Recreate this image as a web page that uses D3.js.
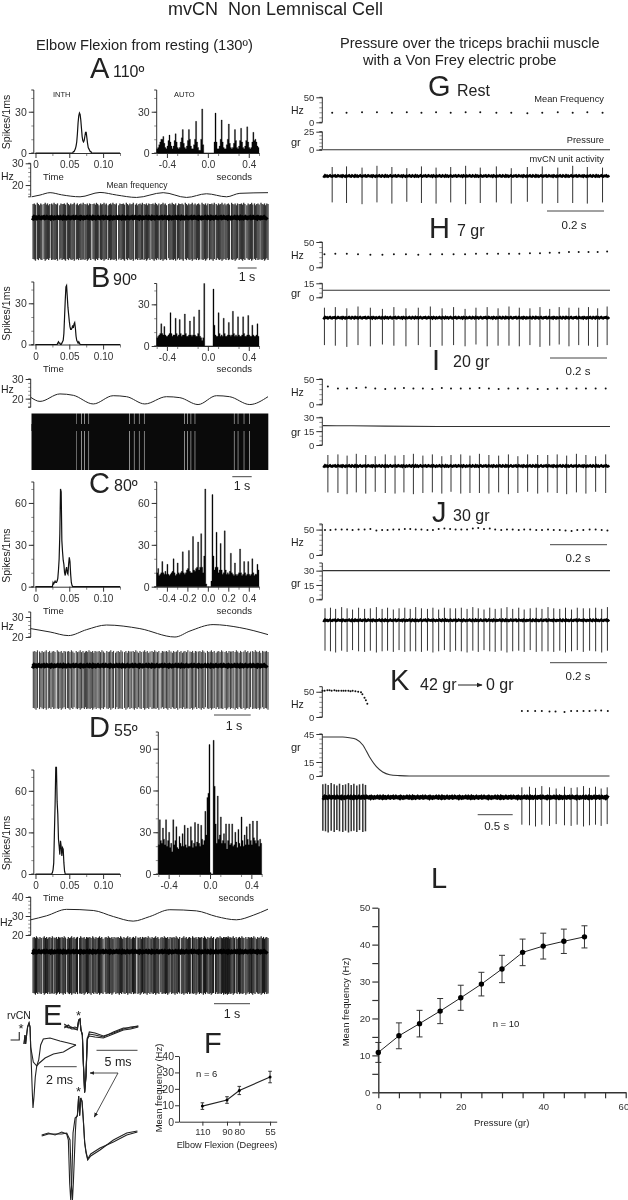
<!DOCTYPE html>
<html>
<head>
<meta charset="utf-8">
<script src="https://cdn.jsdelivr.net/npm/d3@7"></script>
<style>
body { margin: 0; background: #fff; }
svg { display: block; filter: blur(0.35px); }
text { font-family: "Liberation Sans", Arial, sans-serif; fill: #222; }
</style>
</head>
<body>
<svg width="628" height="1200"></svg>
<script>
// interspike histograms, 1 ms bins, first bin in inthXStart
const inthAStart = 0.055;
const inthA = [0,1,1,2,3,5,8,14,22,27,29,28,24,18,12,9,8,9,12,15,15,11,7,4,3,2,1,1,0];
const inthBStart = 0.032;
const inthB = [0,1,2,1,1,0,0,1,2,3,8,20,32,42,43,35,27,22,17,13,11,11,12,14,12,15,16,12,6,3,2,1,2,1,0];
const inthCStart = 0.024;
const inthC = [0,0,3,2,3,4,3,3,4,6,12,20,38,70,68,33,25,19,16,10,8,12,14,10,9,16,21,18,9,3,1,0];
const inthDStart = 0.024;
const inthD = [0,1,3,8,30,50,77,77,52,43,25,20,14,24,20,13,19,18,8,2,0];

// autocorrelograms, 10 ms bins from -0.5 s
const autoA = [3,4,6,8,10,10,12,7,4,3,5,9,13,8,5,3,5,9,14,8,4,3,4,8,11,17,7,4,3,5,9,17,10,5,3,3,6,10,23,8,4,2,2,10,32,6,0,0,0,0,0,0,0,0,0,0,8,29,8,3,3,5,10,24,8,4,3,3,6,10,21,7,4,3,4,7,17,9,4,3,5,9,18,8,4,3,5,9,19,8,4,3,4,8,15,9,10,8,5,4];
const autoB = [6,7,8,9,16,9,8,14,8,7,7,8,9,24,9,7,8,8,20,9,7,8,19,9,7,8,8,23,9,7,7,8,18,8,7,8,21,8,7,7,9,26,7,6,4,6,45,0,0,0,0,0,0,0,0,41,15,8,7,7,24,9,7,8,7,20,9,7,7,8,17,8,7,8,25,9,7,8,7,21,8,7,7,8,21,9,7,7,8,22,8,7,7,15,8,7,7,8,16,7];
const autoC = [10,13,8,9,10,18,10,9,11,9,16,9,8,9,10,11,20,10,8,9,17,10,9,10,11,25,10,9,10,12,13,26,11,10,10,36,12,11,13,14,32,12,14,38,14,10,22,70,2,0,0,0,0,4,66,22,12,14,39,14,10,12,31,12,9,10,40,12,9,10,9,11,24,10,9,8,17,9,8,9,10,27,10,8,9,18,10,8,9,18,9,8,9,20,10,8,9,9,16,12];
const autoD = [21,39,24,22,33,25,21,39,20,24,30,19,22,16,39,21,24,34,19,18,27,22,20,29,20,35,21,19,33,20,20,34,24,19,22,37,20,23,36,22,20,35,25,21,24,45,28,55,58,93,1,0,0,96,63,36,22,56,25,28,41,22,24,29,22,36,18,24,36,21,22,36,20,21,30,23,19,32,22,20,41,24,20,28,21,34,25,21,36,24,21,38,26,24,22,38,24,20,25,22];

// mean frequency traces
const freqATime = [0.05,0.49,1.02,1.63,2.6,3.65,4.53,5.58,6.98,8.21,9.26,10.32,11.02,12.5];
const freqAHz = [14.6,15.4,16.5,15.5,14.6,16.6,15.4,14.3,16.5,14.3,16,14.6,16.2,16.5];
const freqBTime = [0,0.48,1.51,2.2,3.23,4.26,4.95,5.89,7.01,7.7,8.64,9.59,10.27,11.31,12.25];
const freqBHz = [20.7,18.6,22.4,21.7,17.3,21.5,21,17.3,21,20.5,17,21.5,21,17,21];
const freqCTime = [0,0.53,1.03,1.53,2.07,2.98,3.94,4.35,4.98,5.71,6.48];
const freqCHz = [24.2,22.5,20.7,23.7,26,24.2,20,23,26.2,24.7,21.2];
const freqDTime = [0,0.44,1,1.74,2.3,2.85,3.31,3.87,4.61,5.17,5.72,6.19,6.6];
const freqDHz = [28,30.1,33.5,32.9,29.7,27.3,29.7,33.3,32.7,29.7,28,30.4,33.6];

// interspike intervals of the long unit records, ms
const unitAIsi = [58,62,60,95,55,60,64,58,112,60,56,62,60,58,98,60,64,56,60,62,120,58,60,62,56,60,90,62,58,60,64,58,60,105,56,62,60,58,62,60,92,58,64,60,56,60,118,60,62,58,60,64,88,56,60,62,58,60,100,62,60,56,64,58,60,60,125,58,62,60,56,62,94,60,58,64,60,56,62,110,60,58,62,60,64,56,90,60,62,58,60,62,102,56,60,64,58,60,62,96,58,60,62,56,64,115,60,58,62,60,56,60,92,64,58,60,62,58,108,60,56,62,60,64,58,88,60,62,56,60,60,120,58,62,60,64,56,94,60,58,62,60,100,56,64,60,58,62,60,90,58,62,60,56,112,60,64,58,60,62,86,58,60,62,56,60,105,64,58,60,62,58,92,60,56,62,60,98,58,60,64,58,60,62];
const unitCIsi = [38,42,36,40,60,38,36,40,42,38,58,36,40,38,42,36,66,38,40,36,42,38,40,56,36,38,42,40,36,62,38,40,36,38,42,40,30,34,32,36,34,32,38,36,34,32,52,36,38,40,42,38,60,40,36,38,42,36,58,38,40,42,36,38,64,40,38,36,42,38,54,36,40,38,42,40,36,60,38,36,40,42,38,56,40,36,38,42,40,66,36,38,40,42,36,38,52,40,36,38,42,38,58,36,40,38,36,42,40,62,38,36,40,42,38,56,36,38,40,36,42,60,38,40,36,38,42,54,36,40,38,42,36,64,38,40,36,42,38,40,56,36,38,42,40,36,58,38,40,36,42,38,60,36,40,38,42,40,36,52,38,40,36,42];
const unitDIsi = [30,34,32,28,36,32,30,34,55,30,32,34,28,32,30,36,32,48,30,34,28,32,30,34,36,30,28,32,52,30,34,32,28,36,30,32,34,30,60,28,32,34,30,32,36,28,30,34,32,46,30,32,28,34,36,30,32,30,34,58,28,32,30,36,34,30,28,32,50,34,30,32,36,28,30,34,32,44,30,34,28,32,36,30,32,30,62,28,34,32,30,36,28,32,34,30,48,32,28,34,30,36,32,30,28,54,34,30,32,36,28,30,34,32,46,30,34,28,32,30,36,32,58,30,28,34,32,30,36,28,32,50,34,30,32,28,36,30,34,32,44,30,28,34,32,36,30,28,32,34,56,30,32,28,34,36,30,32,18,16,20,18,16,18,20,16,18,20,24,30,34,32,48,28,36,30,32,34,28,30,52,34,32,30,28,36,32,30,34,46,28,32,30,34,36,30,28,32,30,34];
// firing runs of trace B, s (solid between the short pauses)
const unitBRunStart = [0,2.33,2.6,2.76,2.98,5.09,5.33,5.59,5.85,7.93,8.1,8.27,8.48,10.51,10.71,11.02,11.31];
const unitBRunEnd = [2.3,2.56,2.72,2.94,5.05,5.29,5.55,5.81,7.89,8.06,8.23,8.44,10.47,10.67,10.98,11.27,12.25];

// pressure records G-K
const spikesG = [0.032,0.082,0.136,0.188,0.24,0.292,0.343,0.394,0.445,0.497,0.548,0.604,0.656,0.712,0.764,0.818,0.87,0.921,0.974];
const hzG = [19,19,20,20,19,20,19,20,19,20,20,19,19,18,19,20,19,20,19];
const spikesH = [0.005,0.043,0.083,0.122,0.165,0.207,0.247,0.289,0.332,0.374,0.415,0.455,0.495,0.533,0.572,0.61,0.648,0.684,0.721,0.756,0.79,0.823,0.857,0.891,0.925,0.957,0.99];
const hzH = [26,27,27,26,25,25,26,26,25,26,26,26,26,27,27,27,27,27,28,28,29,29,30,30,30,30,31];
const spikesI = [0.017,0.052,0.084,0.116,0.149,0.182,0.217,0.251,0.282,0.315,0.348,0.381,0.414,0.446,0.48,0.512,0.545,0.578,0.612,0.646,0.679,0.713,0.748,0.783,0.816,0.849,0.883,0.916,0.95,0.985];
const hzI = [35,31,31,32,33,31,30,31,32,31,31,30,32,31,31,31,32,31,30,31,31,31,30,30,31,31,31,31,31,31];
const spikesJ = [0.007,0.026,0.044,0.065,0.084,0.103,0.124,0.145,0.165,0.186,0.206,0.225,0.245,0.265,0.285,0.304,0.323,0.343,0.364,0.383,0.403,0.423,0.443,0.462,0.482,0.502,0.522,0.541,0.561,0.581,0.6,0.621,0.641,0.661,0.682,0.701,0.722,0.743,0.763,0.784,0.804,0.825,0.845,0.866,0.886,0.907,0.929,0.95,0.971,0.991];
const hzJ = [49,49,50,50,50,49,50,50,51,48,49,49,50,50,51,51,50,50,49,49,51,52,51,50,50,50,52,53,51,52,50,49,50,50,49,50,50,49,49,50,49,49,48,47,49,49,50,50,49,48];
const spikesKLeft = [0.005,0.043,0.081,0.124,0.167,0.205,0.243,0.29,0.329,0.371,0.41,0.448,0.49,0.529,0.576,0.614];
const spikesKRight = [2.848,2.957,3.043,3.133,3.243,3.338,3.457,3.552,3.638,3.729,3.814,3.9,3.981,4.067];
const dotsKTime = [0,0.03,0.07,0.1,0.13,0.17,0.2,0.23,0.27,0.3,0.33,0.37,0.4,0.43,0.47,0.51,0.55,0.57,0.6,0.62,0.64,2.848,2.933,3.038,3.133,3.243,3.329,3.457,3.552,3.638,3.729,3.814,3.9,3.981,4.076];
const dotsKHz = [52,52,53,53,52,53,52,52,52,52,52,52,51,52,51,50,49,45,38,33,26,12,12,12,12,11,11,10,12,12,12,12,13,13,12];
const pressGTime = [0,1], pressG = [0,0];
const pressHTime = [0,1], pressH = [7.5,7.6];
const pressITime = [0,0.1,0.4,1], pressI = [21,20.8,20,20];
const pressJTime = [0,1], pressJ = [30,30];
const pressKTime = [0,0.29,0.385,0.48,0.576,0.67,0.77,0.86,0.96,1.1,1.24,4.1];
const pressK = [41.8,41.8,41,39.3,33.2,20.7,10,4.3,1.4,0.4,0,0];

// waveforms of panel E, ms
const waveRvTimeA = [0,0.06,0.1,0.16,0.22,0.31,0.37,0.41,0.51,0.55,0.61,0.69,0.78,0.94,1.29,1.8,2.41,2.82,3.18];
const waveRvA = [1,10,1,10,18,22,18,-2,-48,-63,-52,-32,-21,-18,-13,-9,-7,-3,0];
const waveRvTimeB = [0,0.06,0.1,0.16,0.22,0.31,0.37,0.41,0.57,0.78,0.9,1.02,1.18,1.59,2.2,2.71,3.18];
const waveRvB = [1,10,1,10,18,22,18,-2,-17,-21,-15,0,6,7,4,2,0];
const waveTopTime = [0,0.49,0.89,1.3,1.59,1.75,1.91,2.03,2.2,2.32,2.48,2.64,2.8,3.05,3.74,4.76,5.98,7.2,8.09,9.02];
const waveTopA = [4,2,3,1,1,10,11,0,-5,-33,-63,-47,-10,-4,-5,-7,-2,2,2,4];
const waveTopB = [2,5,2,3,2,10,11,0,-5,-33,-62,-46,-9,-2,-3,-6,-3,1,3,4];
const waveTopC = [6,3,1,1,0,9,11,0,-4,-32,-62,-46,-8,-6,-7,-8,-4,0,1,3];
const waveLowTimeA = [0,0.81,1.63,2.44,3.05,3.25,3.41,3.54,3.66,3.82,4.07,4.35,4.51,4.63,4.76,4.92,5.08,5.24,5.41,5.61,5.98,7.11,8.74,10.37,11.67];
const waveLowTimeB = [0,0.81,1.63,2.44,3.05,3.45,3.62,3.75,3.86,4.1,4.2,4.35,4.51,4.63,4.76,4.92,5.08,5.24,5.41,5.61,5.98,7.11,8.74,10.37,11.67];
const waveLowA = [-2,0,-2,1,-1,-7,-50,-67,-50,0,15,17,37,17,35,32,13,-10,-20,-27,-23,-17,-7,0,2];
const waveLowB = [-3,-1,-1,-1,0,-7,-50,-67,-50,0,15,18,37,18,35,31,12,-9,-19,-26,-21,-15,-9,-2,1];

// elbow flexion summary
const flexAngle = [110,90,80,55];
const flexHz = [9.5,13.2,19,27.2];
const flexErr = [2,2,2.5,3.5];
// pressure summary
const pressureGr = [0,5,10,15,20,25,30,35,40,45,50];
const pressureHz = [10.8,15.3,18.6,22,25.6,29.3,33.4,37.9,39.6,40.9,42.1];
const pressureErr = [2.7,3.5,3.6,3.4,3.4,3.2,3.7,3.6,3.5,3.3,3];

// recording noise and spike height spread, cycled along the traces
const bandNoise = [0,1,-1,0.5,-0.5,1,0,-1,0.5,1,-0.5,0,-1,1,0.5,-1,0,0.5,-0.5,1,-1,0,1,-0.5,0.5,0,-1,0.5,1,-1];
const spikeSpread = [0,1,-1,2,0,-2,1,-1,0,2,-1,1,-2,0,1,-1,2,0,-1,1,-2,1,0];

const svg = d3.select("svg");

const label = (x, y, str, size, anchor, rotate) => {
  const t = svg.append("text")
    .attr("font-size", size)
    .attr("text-anchor", anchor || "start")
    .text(str);
  if (rotate) t.attr("transform", "translate(" + [x, y] + ") rotate(" + rotate + ")");
  else t.attr("x", x).attr("y", y);
  return t;
};

const styleAxis = (g, fontSize) => {
  g.selectAll("path,line").attr("stroke", "#333");
  g.selectAll("text").attr("font-size", fontSize).attr("font-family", null).style("fill", "#333");
  g.attr("font-family", null);
};

const leftAxis = (scale, x, major, minor, tickLen, fontSize) => {
  const g = svg.append("g").attr("transform", "translate(" + [x, 0] + ")");
  g.call(d3.axisLeft(scale).tickValues(minor).tickSize(tickLen / 2).tickFormat(""));
  g.selectAll(".tick line").attr("stroke-opacity", 0.55);
  const big = svg.append("g").attr("transform", "translate(" + [x, 0] + ")");
  big.call(d3.axisLeft(scale).tickValues(major).tickSize(tickLen).tickSizeOuter(0).tickPadding(2));
  styleAxis(g, fontSize);
  styleAxis(big, fontSize);
  g.select(".domain").attr("d", "M-" + tickLen / 2 + "," + scale.range()[0] + "H0V" + scale.range()[1] + "H-" + tickLen / 2);
  big.select(".domain").remove();
};

const bottomAxis = (scale, y, major, minor, format) => {
  const g = svg.append("g").attr("transform", "translate(" + [0, y] + ")");
  g.call(d3.axisBottom(scale).tickValues(minor).tickSize(3).tickSizeOuter(0).tickFormat(""));
  g.selectAll(".tick line").attr("stroke-opacity", 0.6);
  const big = svg.append("g").attr("transform", "translate(" + [0, y] + ")");
  big.call(d3.axisBottom(scale).tickValues(major).tickSize(5).tickPadding(3).tickFormat(format));
  big.select(".domain").remove();
  styleAxis(g, 10);
  styleAxis(big, 10);
};

const drawInth = (box, values, start, yMajor) => {
  const x = d3.scaleLinear().domain([-0.0025, 0.125]).range([box.x0, box.x1]);
  const y = d3.scaleLinear().domain(box.yDomain).range([box.y0, box.yTop]);
  const times = [0].concat(values.map((v, i) => start + i * 0.001), [0.125]);
  const vals = [0].concat(values, [0]);
  leftAxis(y, box.x0, yMajor, d3.range(0, box.yDomain[1], 10), 5, 10.5);
  bottomAxis(x, box.y0, [0, 0.05, 0.1], [0.025, 0.075, 0.125], d => d === 0 ? "0" : d3.format(".2f")(d));
  svg.append("path")
    .datum(vals)
    .attr("fill", "none")
    .attr("stroke", "#111")
    .attr("stroke-width", 1.2)
    .attr("d", d3.line().x((d, i) => x(times[i])).y(d => y(d)));
};

const drawAuto = (box, values, yMajor, xMajor) => {
  const x = d3.scaleLinear().domain([-0.5, 0.5]).range([box.x0, box.x1]);
  const y = d3.scaleLinear().domain(box.yDomain).range([box.y0, box.yTop]);
  leftAxis(y, box.x0, yMajor, d3.range(0, box.yDomain[1], 10), 5, 10.5);
  bottomAxis(x, box.y0, xMajor, [-0.3, -0.1, 0.1, 0.3, 0.5, -0.5], d => d3.format(".1f")(d).replace("\u2212", "-"));
  // one stepped area, so neighbouring bins leave no seams
  svg.append("path")
    .datum(values.concat(values[values.length - 1]))
    .attr("fill", "#050505")
    .attr("stroke", "#050505")
    .attr("stroke-width", 0.3)
    .attr("d", d3.area().curve(d3.curveStepAfter)
      .x((d, i) => x(-0.5 + i * 0.01))
      .y0(y(0))
      .y1(d => y(d)));
};

const drawFreq = (box, times, hz, major, minor) => {
  const x = d3.scaleLinear().domain([0, box.span]).range([box.x0, box.x1]);
  const y = d3.scaleLinear().domain(box.yDomain).range([box.y0, box.yTop]);
  leftAxis(y, box.x0, major, minor, 5, 10.5);
  svg.append("path")
    .datum(hz)
    .attr("fill", "none")
    .attr("stroke", "#222")
    .attr("stroke-width", 1)
    .attr("d", d3.line().x((d, i) => x(times[i])).y(d => y(d)).curve(d3.curveMonotoneX));
};

// thin noisy line that the spikes stand on
const drawBand = (x, t0, t1, step, yBand, width, color) => {
  const grid = d3.range(t0, t1, step);
  svg.append("path")
    .datum(grid)
    .attr("fill", "none")
    .attr("stroke", color || "#000")
    .attr("stroke-width", width)
    .attr("d", d3.line().x(d => x(d)).y((d, i) => yBand + bandNoise[i % bandNoise.length] * 0.6));
};

const drawSpikes = (x, times, yBand, up, down, color, width) => {
  svg.append("g").selectAll("line")
    .data(times)
    .join("line")
    .attr("x1", d => x(d))
    .attr("x2", d => x(d))
    .attr("y1", (d, i) => yBand - up - spikeSpread[i % spikeSpread.length] * 0.6)
    .attr("y2", (d, i) => yBand + down + spikeSpread[(i + 7) % spikeSpread.length] * 0.6)
    .attr("stroke", color)
    .attr("stroke-width", width);
};

const drawLongUnit = (box, isi, color, width) => {
  const times = d3.cumsum(isi).map(v => v / 1000);
  const x = d3.scaleLinear().domain([0, d3.sum(isi) / 1000]).range([box.x0, box.x1]);
  drawSpikes(x, times, box.band, box.band - box.top, box.bottom - box.band, color, width);
  drawBand(x, 0, x.domain()[1], x.domain()[1] / 240, box.band, 4);
};

const drawBar = (x0, x1, y, text, cx, yText, size) => {
  const s = d3.scaleLinear().domain([0, 1]).range([x0, x1]);
  svg.append("line")
    .attr("x1", s(0)).attr("x2", s(1)).attr("y1", y).attr("y2", y)
    .attr("stroke", "#444").attr("stroke-width", 1);
  label(cx, yText, text, size, "middle");
};

// ---- titles
label(168, 15, "mvCN\u00a0 Non Lemniscal Cell", 18);
label(36, 50, "Elbow Flexion from resting (130º)", 14.7);
label(340, 48, "Pressure over the triceps brachii muscle", 14.6);
label(363, 65, "with a Von Frey electric probe", 14.7);

const bigLetter = (str, x, y) => label(x, y, str, 29);
bigLetter("A", 90, 78);
label(113, 77, "110º", 16);
bigLetter("B", 91, 287);
label(113, 285, "90º", 16);
bigLetter("C", 89, 493);
label(114, 491, "80º", 16);
bigLetter("D", 89, 737);
label(114, 736, "55º", 16);
bigLetter("E", 43, 1025);
bigLetter("F", 204, 1053);
bigLetter("G", 428, 96);
label(457, 96, "Rest", 16);
bigLetter("H", 429, 238);
label(457, 236, "7 gr", 16);
bigLetter("I", 432, 370);
label(453, 367, "20 gr", 16);
bigLetter("J", 432, 522);
label(453, 521, "30 gr", 16);
bigLetter("K", 390, 690);
label(420, 690, "42 gr", 16);
label(486, 690, "0 gr", 16);
bigLetter("L", 431, 888);

svg.append("defs").append("marker")
  .attr("id", "head").attr("viewBox", "0 0 10 10").attr("refX", 9).attr("refY", 5)
  .attr("markerWidth", 6).attr("markerHeight", 6).attr("orient", "auto")
  .append("path").attr("d", "M0,1L10,5L0,9Z").attr("fill", "#222");
svg.append("line").attr("x1", 458).attr("x2", 482).attr("y1", 685).attr("y2", 685)
  .attr("stroke", "#222").attr("marker-end", "url(#head)");

// ---- left column histograms
const leftRows = [
  { inth: inthA, start: inthAStart, auto: autoA, y0: 153, yTop: 90, top: 45.8, major: [0, 30], xAuto: [156.7, 259], xTicks: [-0.4, 0, 0.4] },
  { inth: inthB, start: inthBStart, auto: autoB, y0: 344.5, yTop: 282, top: 45.5, major: [0, 30], xAuto: [156.7, 259], xTicks: [-0.4, 0, 0.4] },
  { inth: inthC, start: inthCStart, auto: autoC, y0: 586.7, yTop: 482, top: 75, major: [0, 30, 60], xAuto: [156.7, 259], xTicks: [-0.4, -0.2, 0, 0.2, 0.4] },
  { inth: inthD, start: inthDStart, auto: autoD, y0: 874, yTop: 770, top: 75, major: [0, 30, 60], xAuto: [158.3, 261.7], xTicks: [-0.4, 0, 0.4] }
];

leftRows.forEach((row, i) => {
  drawInth({ x0: 33.8, x1: 120, y0: row.y0, yTop: row.yTop, yDomain: [0, row.top] }, row.inth, row.start, row.major);
  const autoBox = { x0: row.xAuto[0], x1: row.xAuto[1], y0: row.y0 + (i === 1 ? 1.5 : 0), yTop: row.yTop, yDomain: [0, row.top] };
  if (i === 3) { autoBox.yTop = 732; autoBox.yDomain = [0, 102]; }
  if (i === 1) { autoBox.yTop = 283.5; autoBox.yDomain = [0, 45]; }
  drawAuto(autoBox, row.auto, i === 3 ? [0, 30, 60, 90] : row.major, row.xTicks);
  label(43, row.y0 + 27, "Time", 9.5);
  label(i === 3 ? 254 : 252, row.y0 + 27, "seconds", 9.5, "end");
  label(10, row.y0 - 31, "Spikes/1ms", 10.5, "middle", -90);
});
label(53, 97, "INTH", 7.5);
label(174, 97, "AUTO", 7.5);
label(137, 188, "Mean frequency", 8.5, "middle");

// ---- left column frequency traces and unit records
drawFreq({ x0: 30.7, x1: 268, span: 12.5, y0: 196.8, yTop: 163.3, yDomain: [14.6, 30] }, freqATime, freqAHz, [20, 30], d3.range(16, 30, 2));
drawFreq({ x0: 30.7, x1: 268, span: 12.25, y0: 407.3, yTop: 379, yDomain: [15.6, 30] }, freqBTime, freqBHz, [20, 30], d3.range(16, 30, 2));
drawFreq({ x0: 30.7, x1: 268, span: 6.48, y0: 637, yTop: 612, yDomain: [20, 32.5] }, freqCTime, freqCHz, [20, 30], d3.range(20, 32, 2));
drawFreq({ x0: 30.7, x1: 268, span: 6.6, y0: 935, yTop: 897, yDomain: [20, 40] }, freqDTime, freqDHz, [20, 30, 40], d3.range(20, 40, 2));
label(1, 180, "Hz", 10.5);
label(1, 393, "Hz", 10.5);
label(1, 630, "Hz", 10.5);
label(0, 926, "Hz", 10.5);

drawLongUnit({ x0: 32, x1: 268, top: 204, bottom: 259.5, band: 217.7 }, unitAIsi, "#333", 1.3);
drawLongUnit({ x0: 32, x1: 268, top: 651.5, bottom: 708.5, band: 665.7 }, unitCIsi, "#444", 1.15);
drawLongUnit({ x0: 32, x1: 268, top: 937.5, bottom: 993.5, band: 951.7 }, unitDIsi, "#1a1a1a", 1.15);

// trace B is solid, only the pauses show
const xUnitB = d3.scaleLinear().domain([0, 12.25]).range([31.5, 268]);
svg.append("g").selectAll("rect")
  .data(unitBRunStart)
  .join("rect")
  .attr("x", d => xUnitB(d))
  .attr("width", (d, i) => xUnitB(unitBRunEnd[i]) - xUnitB(d) + 0.3)
  .attr("y", 413.5)
  .attr("height", 56.5)
  .attr("fill", "#0a0a0a");
svg.append("rect").attr("x", 31.5).attr("width", 236.5).attr("y", 424).attr("height", 7).attr("fill", "#0a0a0a");

drawBar(237.7, 256.7, 268, "1 s", 247, 281, 12.5);
drawBar(232.3, 251.7, 476.7, "1 s", 242, 490, 12.5);
drawBar(214, 250.7, 715, "1 s", 234, 730, 12.5);
drawBar(214, 250, 1003.7, "1 s", 232, 1018, 12.5);

// ---- right column
const rightRows = [
  { spikes: spikesG, hz: hzG, dotT: spikesG, pT: pressGTime, p: pressG, f0: 122.3, f50: 97.3, fTop: 97.3, fMax: 50, p0: 149.7, pTopY: 131.7, pMax: 25, pMajor: [0, 25], band: 176, up: 9, down: 27 },
  { spikes: spikesH, hz: hzH, dotT: spikesH, pT: pressHTime, p: pressH, f0: 267.3, f50: 242, fTop: 242, fMax: 50, p0: 297.3, pTopY: 283.3, pMax: 15, pMajor: [0, 15], band: 317.7, up: 10, down: 28 },
  { spikes: spikesI, hz: hzI, dotT: spikesI, pT: pressITime, p: pressI, f0: 404.3, f50: 379, fTop: 379, fMax: 50, p0: 445, pTopY: 417.3, pMax: 30, pMajor: [0, 15, 30], band: 466, up: 11, down: 27 },
  { spikes: spikesJ, hz: hzJ, dotT: spikesJ, pT: pressJTime, p: pressJ, f0: 555, f50: 529.7, fTop: 524, fMax: 61, p0: 599.3, pTopY: 563, pMax: 38, pMajor: [0, 15, 30], band: 620.3, up: 12, down: 31 }
];

const xRight = d3.scaleLinear().domain([0, 1]).range([323, 610]);

const drawRightAxes = (row) => {
  const yF = d3.scaleLinear().domain([0, row.fMax]).range([row.f0, row.fTop]);
  leftAxis(yF, 322.3, [0, 50], d3.range(0, row.fMax, 10), 6, 9.5);
  const yP = d3.scaleLinear().domain([0, row.pMax]).range([row.p0, row.pTopY]);
  leftAxis(yP, 322.3, row.pMajor, d3.range(0, row.pMax, 5), 6, 9.5);
  return { yF, yP };
};

const drawDots = (x, yF, times, hz) => {
  svg.append("g").selectAll("circle")
    .data(hz)
    .join("circle")
    .attr("cx", (d, i) => x(times[i]))
    .attr("cy", d => yF(d))
    .attr("r", 1)
    .attr("fill", "#111");
};

const drawPressure = (x, yP, times, vals) => {
  svg.append("path")
    .datum(vals)
    .attr("fill", "none")
    .attr("stroke", "#333")
    .attr("stroke-width", 1.1)
    .attr("d", d3.line().x((d, i) => x(times[i])).y(d => yP(d)).curve(d3.curveMonotoneX));
};

rightRows.forEach(row => {
  const { yF, yP } = drawRightAxes(row);
  drawDots(xRight, yF, row.dotT, row.hz);
  drawPressure(xRight, yP, row.pT, row.p);
  drawSpikes(xRight, row.spikes, row.band, row.up, row.down, "#333", 1);
  drawBand(xRight, 0, 1, 0.0035, row.band, 2.6);
});

// panel K has the long time base
const xK = d3.scaleLinear().domain([0, 4.1]).range([322.5, 609.5]);
const rowK = { f0: 717, fTop: 686.7, fMax: 60, p0: 776, pTopY: 734, pMax: 45, pMajor: [0, 15, 45] };
const yFK = d3.scaleLinear().domain([0, rowK.fMax]).range([rowK.f0, rowK.fTop]);
leftAxis(yFK, 322.3, [0, 50], d3.range(0, 60, 10), 6, 9.5);
const yPK = d3.scaleLinear().domain([0, rowK.pMax]).range([rowK.p0, rowK.pTopY]);
leftAxis(yPK, 322.3, rowK.pMajor, d3.range(0, 45, 5), 6, 9.5);
drawDots(xK, yFK, dotsKTime, dotsKHz);
drawPressure(xK, yPK, pressKTime, pressK);
drawSpikes(xK, spikesKLeft, 797.3, 13, 34, "#333", 1.5);
drawSpikes(xK, spikesKRight, 797.3, 10, 28, "#333", 1);
drawBand(xK, 0, 4.1, 0.014, 797.3, 3.8);

label(604, 102, "Mean Frequency", 9.3, "end");
label(604, 143, "Pressure", 9.3, "end");
label(604, 162, "mvCN unit activity", 9.3, "end");
[[110, 142], [255, 293], [392, 432], [542, 583], [704, 747]].forEach(d => {
  label(291, d[0] + 4, "Hz", 10.5);
  label(291, d[1] + 4, "gr", 11);
});

drawBar(547, 604, 211, "0.2 s", 574, 229, 11.5);
drawBar(550, 607, 358, "0.2 s", 578, 375, 11.5);
drawBar(550, 607, 544.7, "0.2 s", 578, 562, 11.5);
drawBar(550, 607, 662.7, "0.2 s", 578, 680, 11.5);
drawBar(477.7, 512.7, 814.7, "0.5 s", 496.7, 830, 11.5);

// ---- panel E waveforms
const drawWave = (x, y, times, vals) => {
  svg.append("path")
    .datum(vals)
    .attr("fill", "none")
    .attr("stroke", "#222")
    .attr("stroke-width", 1.1)
    .attr("d", d3.line().x((d, i) => x(times[i])).y(d => y(d)));
};
const xRv = d3.scaleLinear().domain([0, 3.18]).range([24, 76]);
const yRv = d3.scaleLinear().domain([0, 22]).range([1045, 1023]);
drawWave(xRv, yRv, waveRvTimeA, waveRvA);
drawWave(xRv, yRv, waveRvTimeB, waveRvB);
drawWave(xRv, yRv, [-0.82, -0.29, -0.29], [5, 5, 13]);

const xTop = d3.scaleLinear().domain([0, 9.02]).range([64.3, 138.3]);
const yTop = d3.scaleLinear().domain([0, 11]).range([1030, 1019]);
drawWave(xTop, yTop, waveTopTime, waveTopA);
drawWave(xTop, yTop, waveTopTime, waveTopB);
drawWave(xTop, yTop, waveTopTime, waveTopC);

const xLow = d3.scaleLinear().domain([0, 11.67]).range([41.7, 137.4]);
const yLow = d3.scaleLinear().domain([0, 37]).range([1133, 1096]);
drawWave(xLow, yLow, waveLowTimeA, waveLowA);
drawWave(xLow, yLow, waveLowTimeB, waveLowB);

label(7, 1019, "rvCN", 10.5);
label(18.5, 1033, "*", 13);
label(76, 1020, "*", 13);
label(76, 1096, "*", 13);
drawBar(44, 76.7, 1066.7, "2 ms", 59.5, 1084, 12.5);
drawBar(96.5, 137.5, 1050.3, "5 ms", 118, 1066, 12.5);

svg.append("line").attr("x1", 118).attr("y1", 1073).attr("x2", 90).attr("y2", 1073)
  .attr("stroke", "#222").attr("stroke-width", 0.8).attr("marker-end", "url(#head)");
svg.append("line").attr("x1", 118).attr("y1", 1073).attr("x2", 94.3).attr("y2", 1117)
  .attr("stroke", "#222").attr("stroke-width", 0.8).attr("marker-end", "url(#head)");

// ---- summary plots
const errorPlot = (x, y, xs, ys, errs, r, cap, width) => {
  svg.append("path")
    .datum(ys)
    .attr("fill", "none")
    .attr("stroke", "#222")
    .attr("stroke-width", width)
    .attr("d", d3.line().x((d, i) => x(xs[i])).y(d => y(d)));
  const bars = svg.append("g").selectAll("g").data(ys).join("g");
  bars.append("path")
    .attr("fill", "none")
    .attr("stroke", "#333")
    .attr("d", (d, i) => {
      const cx = x(xs[i]);
      const y1 = y(d - errs[i]);
      const y2 = y(d + errs[i]);
      return "M" + (cx - cap) + "," + y1 + "H" + (cx + cap) + "M" + cx + "," + y1 + "V" + y2 + "M" + (cx - cap) + "," + y2 + "H" + (cx + cap);
    });
  bars.append("circle")
    .attr("cx", (d, i) => x(xs[i]))
    .attr("cy", d => y(d))
    .attr("r", r)
    .attr("fill", "#000");
};

const xF = d3.scaleLinear().domain([129, 49.6]).range([179, 276.7]);
const yF = d3.scaleLinear().domain([0, 40]).range([1121.7, 1056]);
const fxAxis = svg.append("g").attr("transform", "translate(0,1121.7)")
  .call(d3.axisBottom(xF).tickValues(flexAngle).tickSize(4).tickSizeOuter(0).tickPadding(3));
styleAxis(fxAxis, 9.5);
const fyAxis = svg.append("g").attr("transform", "translate(179,0)")
  .call(d3.axisLeft(yF).tickValues([0, 10, 20, 30, 40]).tickSize(4).tickSizeOuter(0).tickPadding(1));
styleAxis(fyAxis, 10.5);
errorPlot(xF, yF, flexAngle, flexHz, flexErr, 1.5, 1.8, 1.1);
label(206.7, 1077, "n = 6", 9.5, "middle");
label(162, 1088, "Mean  frequency (Hz)", 9.5, "middle", -90);
label(227, 1148, "Elbow Flexion (Degrees)", 9.2, "middle");

const xL = d3.scaleLinear().domain([0, 60]).range([378.3, 625.7]);
const yL = d3.scaleLinear().domain([0, 50]).range([1092.3, 907.7]);
const lxAxis = svg.append("g").attr("transform", "translate(0,1092.3)")
  .call(d3.axisBottom(xL).tickValues(d3.range(0, 61, 5)).tickSize(6).tickSizeOuter(0).tickPadding(5)
    .tickFormat(d => d % 20 === 0 ? d : ""));
styleAxis(lxAxis, 9.5);
const lyAxis = svg.append("g").attr("transform", "translate(378.3,0)")
  .call(d3.axisLeft(yL).tickValues(d3.range(0, 51, 5)).tickSize(6).tickSizeOuter(0).tickPadding(2)
    .tickFormat(d => d % 10 === 0 ? d : ""));
styleAxis(lyAxis, 9.5);
lxAxis.select(".domain").attr("stroke-width", 1.4);
lyAxis.select(".domain").attr("stroke-width", 1.4);
lxAxis.selectAll(".tick line").attr("stroke-width", 1.2);
lyAxis.selectAll(".tick line").attr("stroke-width", 1.2);
// the last label sits inside the page edge
lxAxis.selectAll(".tick text").filter(d => d === 60).attr("text-anchor", "end").attr("dx", 3);
errorPlot(xL, yL, pressureGr, pressureHz, pressureErr, 2.7, 3, 1);
label(506, 1027, "n = 10", 9.5, "middle");
label(349, 1002, "Mean  frequency (Hz)", 9.5, "middle", -90);
label(501.7, 1126, "Pressure (gr)", 9.5, "middle");
</script>
</body>
</html>
